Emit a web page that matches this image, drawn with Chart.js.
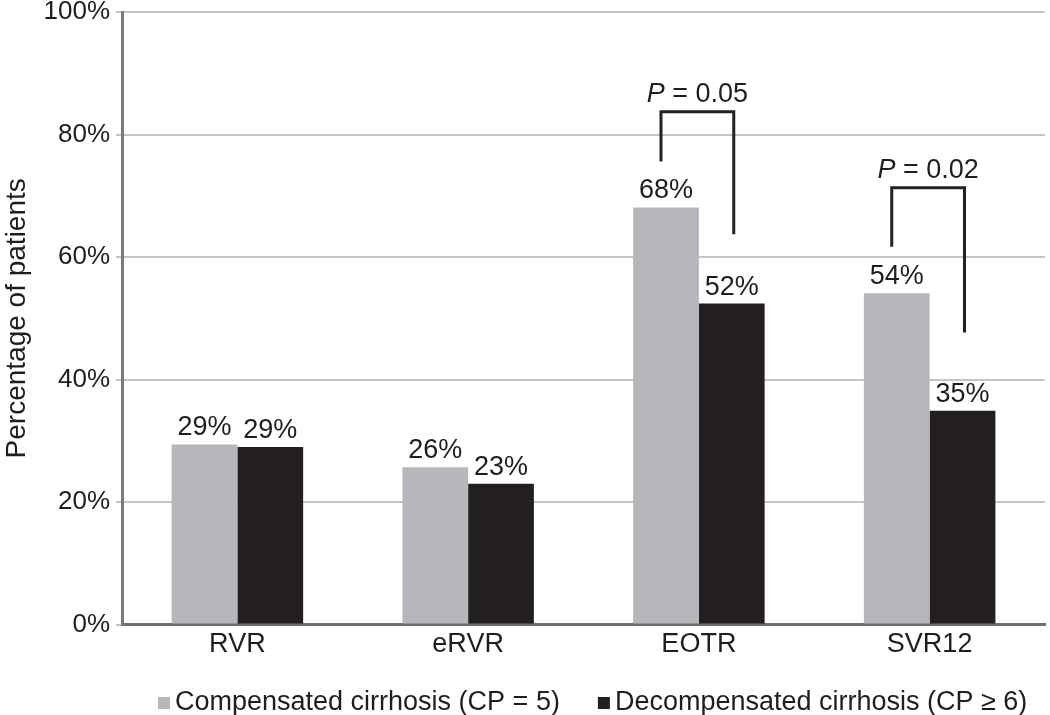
<!DOCTYPE html>
<html>
<head>
<meta charset="utf-8">
<script src="https://cdn.jsdelivr.net/npm/chart.js@4/dist/chart.umd.min.js"></script>
<style>
  html, body { margin: 0; padding: 0; background: #fff; }
  #wrap { width: 1050px; height: 715px; }
</style>
</head>
<body>
<div id="wrap"><canvas id="myChart" width="1050" height="715"></canvas></div>
<script>
// Categories and values (percent of patients)
const labels = ['RVR', 'eRVR', 'EOTR', 'SVR12'];
const compensated = [29.4, 25.7, 68.1, 54.1];
const decompensated = [29.0, 23.0, 52.4, 34.9];

// P-value brackets: category, left leg bottom, bar top, right leg bottom (in %)
const bracketCats = [2, 3];
const bracketLeft = [75.6, 61.7];
const bracketTop = [83.7, 71.3];
const bracketRight = [63.7, 47.7];
const bracketText = ['0.05', '0.02'];

const FONT = '"Liberation Sans", Arial, Helvetica, sans-serif';
const TEXT = '#1e1e1e';
const SIZE = 27;

// Draw the value labels above each bar
const valueLabels = {
    id: 'valueLabels',
    afterDatasetsDraw(chart) {
        const ctx = chart.ctx;
        ctx.save();
        ctx.font = SIZE + 'px ' + FONT;
        ctx.fillStyle = TEXT;
        ctx.textAlign = 'center';
        ctx.textBaseline = 'alphabetic';
        chart.data.datasets.forEach((ds, i) => {
            chart.getDatasetMeta(i).data.forEach((bar, j) => {
                ctx.fillText(Math.round(ds.data[j]) + '%', bar.x, bar.y - 9);
            });
        });
        ctx.restore();
    }
};

// Draw the significance brackets with their P values
const brackets = {
    id: 'brackets',
    afterDatasetsDraw(chart) {
        const ctx = chart.ctx;
        const y = chart.scales.y;
        ctx.save();
        ctx.strokeStyle = '#222';
        ctx.lineWidth = 3;
        bracketCats.forEach((cat, k) => {
            const xl = chart.getDatasetMeta(0).data[cat].x - 5;
            const xr = chart.getDatasetMeta(1).data[cat].x + 2;
            const yt = y.getPixelForValue(bracketTop[k]);
            ctx.beginPath();
            ctx.moveTo(xl, y.getPixelForValue(bracketLeft[k]));
            ctx.lineTo(xl, yt);
            ctx.lineTo(xr, yt);
            ctx.lineTo(xr, y.getPixelForValue(bracketRight[k]));
            ctx.stroke();

            // "P = 0.05" with italic P
            const cx = (xl + xr) / 2;
            const ty = yt - 10;
            ctx.fillStyle = TEXT;
            ctx.textBaseline = 'alphabetic';
            ctx.font = 'italic ' + SIZE + 'px ' + FONT;
            const pw = ctx.measureText('P').width;
            ctx.font = SIZE + 'px ' + FONT;
            const rest = ' = ' + bracketText[k];
            const rw = ctx.measureText(rest).width;
            const x0 = cx - (pw + rw) / 2;
            ctx.textAlign = 'left';
            ctx.font = 'italic ' + SIZE + 'px ' + FONT;
            ctx.fillText('P', x0, ty);
            ctx.font = SIZE + 'px ' + FONT;
            ctx.fillText(rest, x0 + pw, ty);
        });
        ctx.restore();
    }
};

// Legend under the axis, drawn from the dataset labels and colours
const bottomLegend = {
    id: 'bottomLegend',
    afterDraw(chart) {
        const ctx = chart.ctx;
        const area = chart.chartArea;
        const cy = chart.height - 12;
        let x = area.left + 36;
        ctx.save();
        ctx.font = SIZE + 'px ' + FONT;
        ctx.textBaseline = 'middle';
        ctx.textAlign = 'left';
        chart.data.datasets.forEach(ds => {
            ctx.fillStyle = ds.backgroundColor;
            ctx.fillRect(x, cy - 6, 12, 12);
            ctx.fillStyle = TEXT;
            ctx.fillText(ds.label, x + 17, cy);
            x += 17 + ctx.measureText(ds.label).width + 38;
        });
        ctx.restore();
    }
};

const data = {
    labels: labels,
    datasets: [{
        label: 'Compensated cirrhosis (CP = 5)',
        data: compensated,
        backgroundColor: '#b6b7ba',
        borderWidth: 0
    }, {
        label: 'Decompensated cirrhosis (CP \u2265 6)',
        data: decompensated,
        backgroundColor: '#231f20',
        borderWidth: 0
    }]
};

const config = {
    type: 'bar',
    data: data,
    plugins: [valueLabels, brackets, bottomLegend],
    options: {
        responsive: false,
        animation: false,
        layout: { padding: { top: 12, right: 5, left: 0, bottom: 50 } },
        datasets: {
            bar: { categoryPercentage: 0.57, barPercentage: 1.0 }
        },
        plugins: {
            legend: { display: false },
            title: { display: false },
            tooltip: { enabled: false }
        },
        scales: {
            x: {
                grid: { display: false, drawTicks: false },
                border: { color: '#6f6f6f', width: 3 },
                ticks: {
                    font: { family: FONT, size: SIZE },
                    color: TEXT,
                    padding: 4
                }
            },
            y: {
                min: 0,
                max: 100,
                afterFit(scale) {
                    scale.width = 122;
                    scale.paddingTop = 0;
                },
                grid: {
                    color: '#c4c4c4',
                    lineWidth: 2,
                    tickLength: 6
                },
                border: { color: '#7a7a7a', width: 3 },
                ticks: {
                    stepSize: 20,
                    font: { family: FONT, size: 26 },
                    color: TEXT,
                    padding: 6,
                    callback: v => v + '%'
                },
                title: {
                    display: true,
                    text: 'Percentage of patients',
                    font: { family: FONT, size: 28 },
                    color: TEXT,
                    padding: 0
                }
            }
        }
    }
};

const chart = new Chart(document.getElementById('myChart'), config);
</script>
</body>
</html>
